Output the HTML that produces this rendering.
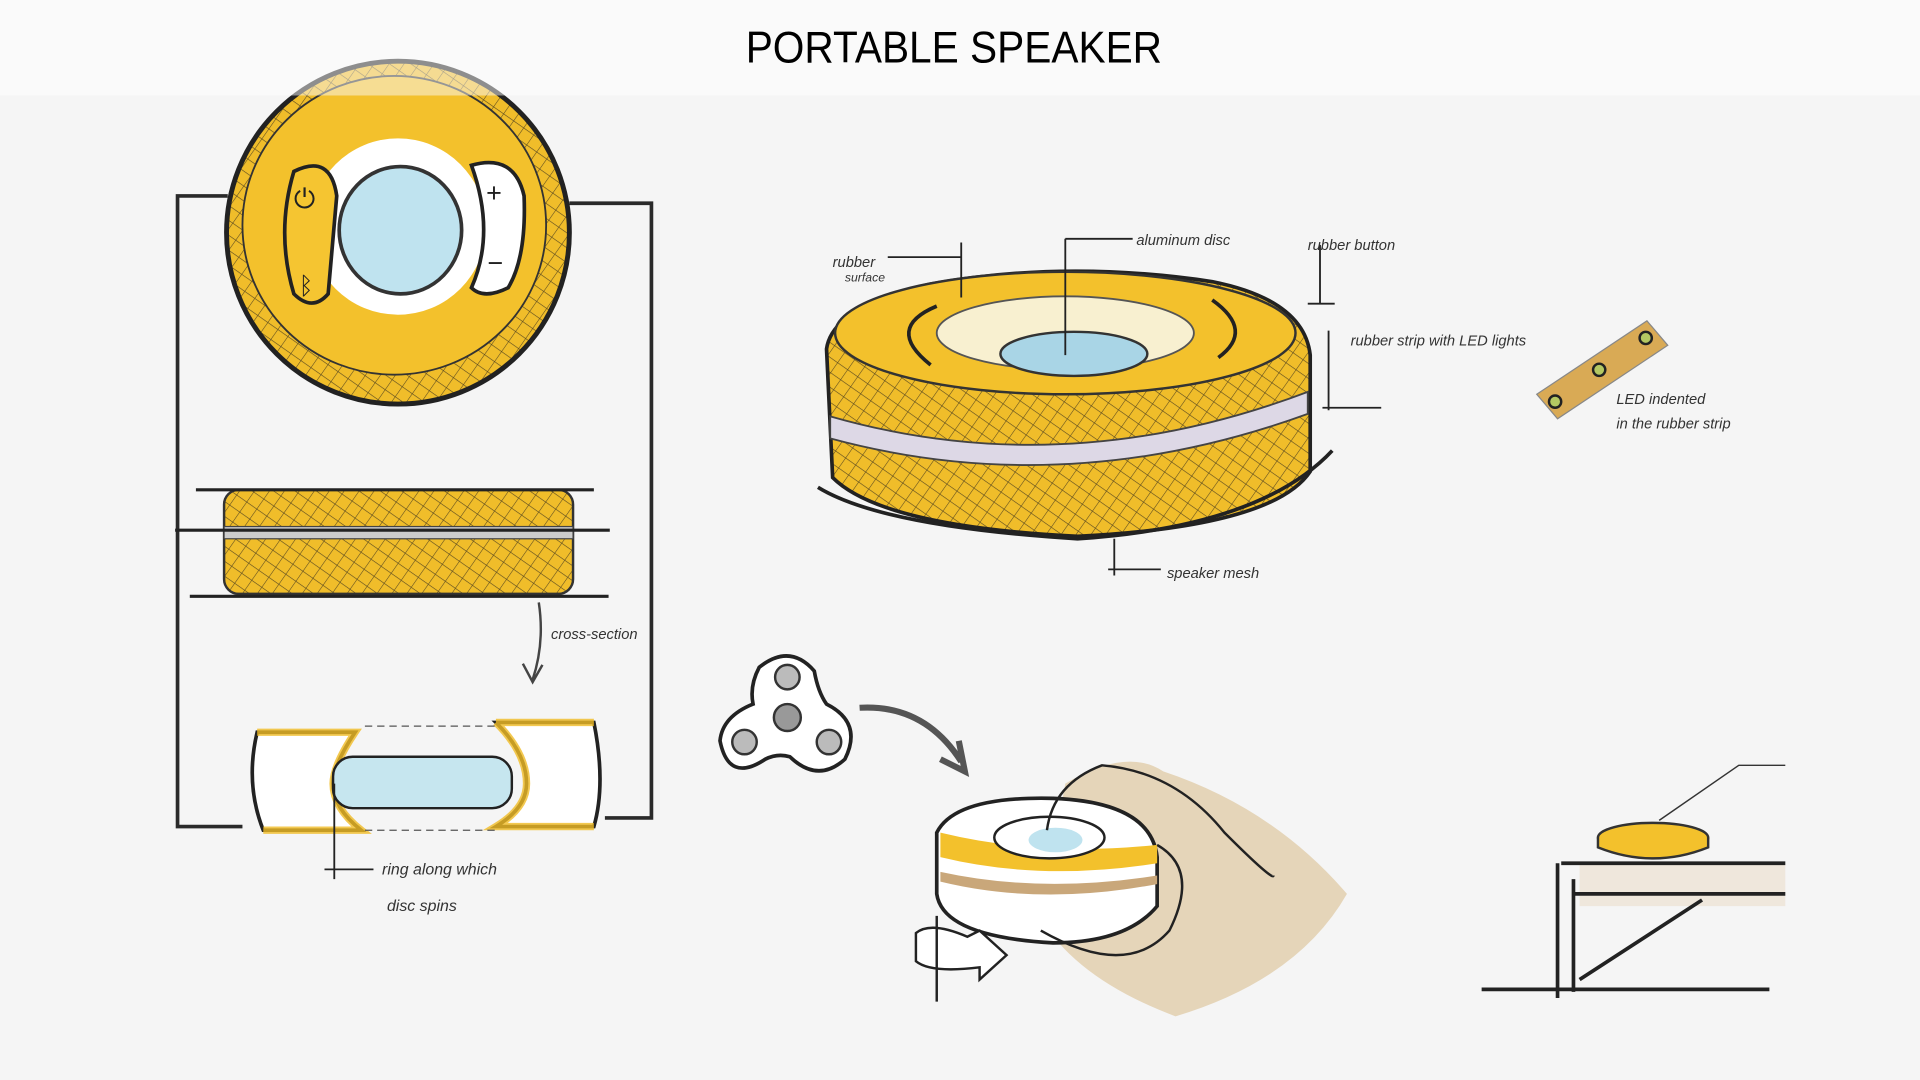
<!DOCTYPE html>
<html><head><meta charset="utf-8"><style>
html,body{margin:0;padding:0;width:1920px;height:1080px;overflow:hidden;background:#f5f5f5}
svg{display:block}
text{font-family:"Liberation Sans",sans-serif}
</style></head><body>
<svg width="1920" height="1080" viewBox="0 0 1568 882" xmlns="http://www.w3.org/2000/svg">
<defs>
<pattern id="mesh" width="10" height="10" patternUnits="userSpaceOnUse" patternTransform="rotate(35)">
<rect width="10" height="10" fill="#f0bd2a"/>
<path d="M0 0V10M0 0H10" stroke="#5a4a20" stroke-width="0.9"/>
</pattern>
</defs>
<rect x="0" y="0" width="1568" height="78" fill="#fafafa"/>
<rect x="0" y="78" width="1568" height="804" fill="#f5f5f5"/>

<g fill="none" stroke="#2a2a2a" stroke-width="3">
<path d="M186 160H145V675H198M465 166H532V668H494"/>
</g>
<!-- top view -->
<ellipse cx="325" cy="190" rx="140" ry="140" fill="url(#mesh)" stroke="#222" stroke-width="4"/>
<ellipse cx="322" cy="184" rx="124" ry="122" fill="#f3c12c" stroke="#333" stroke-width="1.5"/>
<ellipse cx="325" cy="185" rx="72" ry="72" fill="#fff"/>
<ellipse cx="327" cy="188" rx="50" ry="52" fill="#bfe3ef" stroke="#333" stroke-width="3"/>
<path d="M240 140Q270 125 275 160L268 240Q255 255 240 240Q225 190 240 140Z" fill="#f5c531" stroke="#222" stroke-width="3"/>
<path d="M385 135Q420 125 428 160Q430 210 415 235Q395 245 385 235Q405 190 385 135Z" fill="#fff" stroke="#222" stroke-width="3"/>
<text x="240" y="170" font-size="22" fill="#222">⏻</text>
<text x="397" y="165" font-size="22" fill="#222">+</text>
<text x="398" y="222" font-size="22" fill="#222">−</text>
<text x="244" y="240" font-size="20" fill="#222">ᛒ</text>
<rect x="0" y="0" width="1568" height="78" fill="#fafafa" opacity="0.5"/>
<text x="779" y="51" font-size="36" text-anchor="middle" fill="#000" textLength="340" lengthAdjust="spacingAndGlyphs">PORTABLE SPEAKER</text>

<!-- side view -->
<rect x="183" y="400" width="285" height="85" rx="12" fill="url(#mesh)" stroke="#333" stroke-width="2"/>
<rect x="183" y="430" width="285" height="10" fill="#ccc" stroke="#444" stroke-width="1"/>
<path d="M160 400H485M143 433H498M155 487H497" stroke="#222" stroke-width="2.5" fill="none"/>
<path d="M440 492Q445 525 435 555M427 542L435 557L443 543" stroke="#444" stroke-width="2" fill="none"/>
<text x="450" y="522" font-size="12" fill="#333" font-style="italic">cross-section</text>
<!-- cross section -->
<path d="M210 598H290Q272 625 272 640Q272 660 295 678H215Q200 640 210 598Z" fill="#fff" stroke="#222" stroke-width="3"/>
<path d="M210 598H290Q272 625 272 640Q272 660 295 678H215" fill="none" stroke="#f0bb25" stroke-width="6" opacity="0.8"/>
<path d="M405 590H485Q495 640 485 675H405Q430 660 430 640Q430 615 405 590Z" fill="#fff" stroke="#222" stroke-width="3"/>
<path d="M405 590H485M485 675H405Q430 660 430 640Q430 615 405 590" fill="none" stroke="#f0bb25" stroke-width="6" opacity="0.8"/>
<rect x="272" y="618" width="146" height="42" rx="16" fill="#c6e6ef" stroke="#222" stroke-width="2"/>
<path d="M298 593H405M298 678H405" stroke="#555" stroke-dasharray="6 4" fill="none"/>
<path d="M273 640V718M265 710H305" stroke="#222" stroke-width="1.5" fill="none"/>
<text x="312" y="714" font-size="13" fill="#333" font-style="italic">ring along which</text>
<text x="316" y="744" font-size="13" fill="#333" font-style="italic">disc spins</text>

<!-- main perspective view -->
<path d="M675 285Q680 250 760 232Q870 212 990 230Q1065 245 1070 290L1070 385Q1040 430 880 438Q720 430 680 390Z" fill="url(#mesh)" stroke="#222" stroke-width="3"/>
<ellipse cx="870" cy="272" rx="188" ry="50" fill="#f3c12c" stroke="#333" stroke-width="2"/>
<ellipse cx="870" cy="272" rx="105" ry="30" fill="#f8f0d0" stroke="#555" stroke-width="1.5"/>
<ellipse cx="877" cy="289" rx="60" ry="18" fill="#a9d5e6" stroke="#333" stroke-width="2"/>
<path d="M765 250Q722 268 760 298" stroke="#222" stroke-width="3" fill="none"/>
<path d="M990 245Q1025 270 995 292" stroke="#222" stroke-width="3" fill="none"/>
<path d="M678 340Q870 395 1068 320L1068 338Q870 410 678 358Z" fill="#ddd8e6" stroke="#444" stroke-width="1.5"/>
<path d="M668 398Q720 430 880 440Q1030 430 1088 368" stroke="#222" stroke-width="3" fill="none"/>
<g stroke="#222" stroke-width="1.5" fill="none">
<path d="M870 195V290M870 195H925M785 198V243M725 210H785M1078 200V248M1068 248H1090M1085 270V335M1080 333H1128M910 440V470M905 465H948"/>
</g>
<g font-size="12" fill="#333" font-style="italic">
<text x="928" y="200">aluminum disc</text>
<text x="1068" y="204">rubber button</text>
<text x="680" y="218">rubber</text><text x="690" y="230" font-size="10">surface</text>
<text x="1103" y="282">rubber strip with LED lights</text>
<text x="953" y="472">speaker mesh</text>
<text x="1320" y="330">LED indented</text>
<text x="1320" y="350">in the rubber strip</text>
</g>
<path d="M1255 322L1345 262L1362 282L1272 342Z" fill="#d9aa55" stroke="#888" stroke-width="1"/>
<g fill="#b4c862" stroke="#222" stroke-width="2"><circle cx="1270" cy="328" r="5"/><circle cx="1306" cy="302" r="5"/><circle cx="1344" cy="276" r="5"/></g>

<!-- spinner -->
<path d="M620 545Q645 525 665 548Q668 565 675 575Q705 590 690 620Q668 640 645 618Q635 615 625 620Q595 640 588 605Q590 585 615 575Q612 560 620 545Z" fill="#fff" stroke="#222" stroke-width="3"/>
<g fill="#bbb" stroke="#333" stroke-width="2"><circle cx="643" cy="553" r="10"/><circle cx="608" cy="606" r="10"/><circle cx="677" cy="606" r="10"/><circle cx="643" cy="586" r="11" fill="#999"/></g>
<path d="M702 578Q755 575 785 622M768 620L788 630L783 605" stroke="#555" stroke-width="5" fill="none"/>

<!-- hand -->
<path d="M870 640Q920 610 950 630Q1040 660 1100 730Q1060 800 960 830Q880 800 850 750Z" fill="#e2cfae" opacity="0.85"/>
<path d="M765 680Q780 650 860 652Q940 655 945 700L945 740Q920 770 860 770Q770 765 765 730Z" fill="#fff" stroke="#222" stroke-width="3"/>
<path d="M768 680Q850 700 945 690L945 705Q850 720 768 700Z" fill="#f3c12c"/>
<path d="M768 712Q850 730 945 715L945 722Q850 740 768 720Z" fill="#c9a77a"/>
<ellipse cx="857" cy="684" rx="45" ry="17" fill="#fff" stroke="#222" stroke-width="2"/>
<ellipse cx="862" cy="686" rx="22" ry="10" fill="#bfe3ef"/>
<path d="M855 678Q860 640 900 625Q960 630 1000 680Q1040 720 1040 715M945 690Q980 710 955 760Q920 800 850 760" stroke="#222" stroke-width="2" fill="none"/>
<path d="M765 748V818M748 762Q760 752 790 765L800 760L822 780L800 800L800 790Q760 795 748 785Z" fill="#fff" stroke="#222" stroke-width="2"/>

<!-- table scene -->
<path d="M1290 705H1458V740H1290Z" fill="#efe7dc"/>
<path d="M1275 705H1458M1272 705V815M1285 718V810M1285 730H1458M1210 808H1445M1290 800L1390 735" stroke="#222" stroke-width="3" fill="none"/>
<ellipse cx="1350" cy="684" rx="45" ry="12" fill="#f3c12c" stroke="#333" stroke-width="2"/>
<path d="M1305 684V692Q1350 710 1395 692V684" fill="#f3c12c" stroke="#333" stroke-width="2"/>
<path d="M1355 670L1420 625H1458" stroke="#333" stroke-width="1.2" fill="none"/>
</svg>
</body></html>
